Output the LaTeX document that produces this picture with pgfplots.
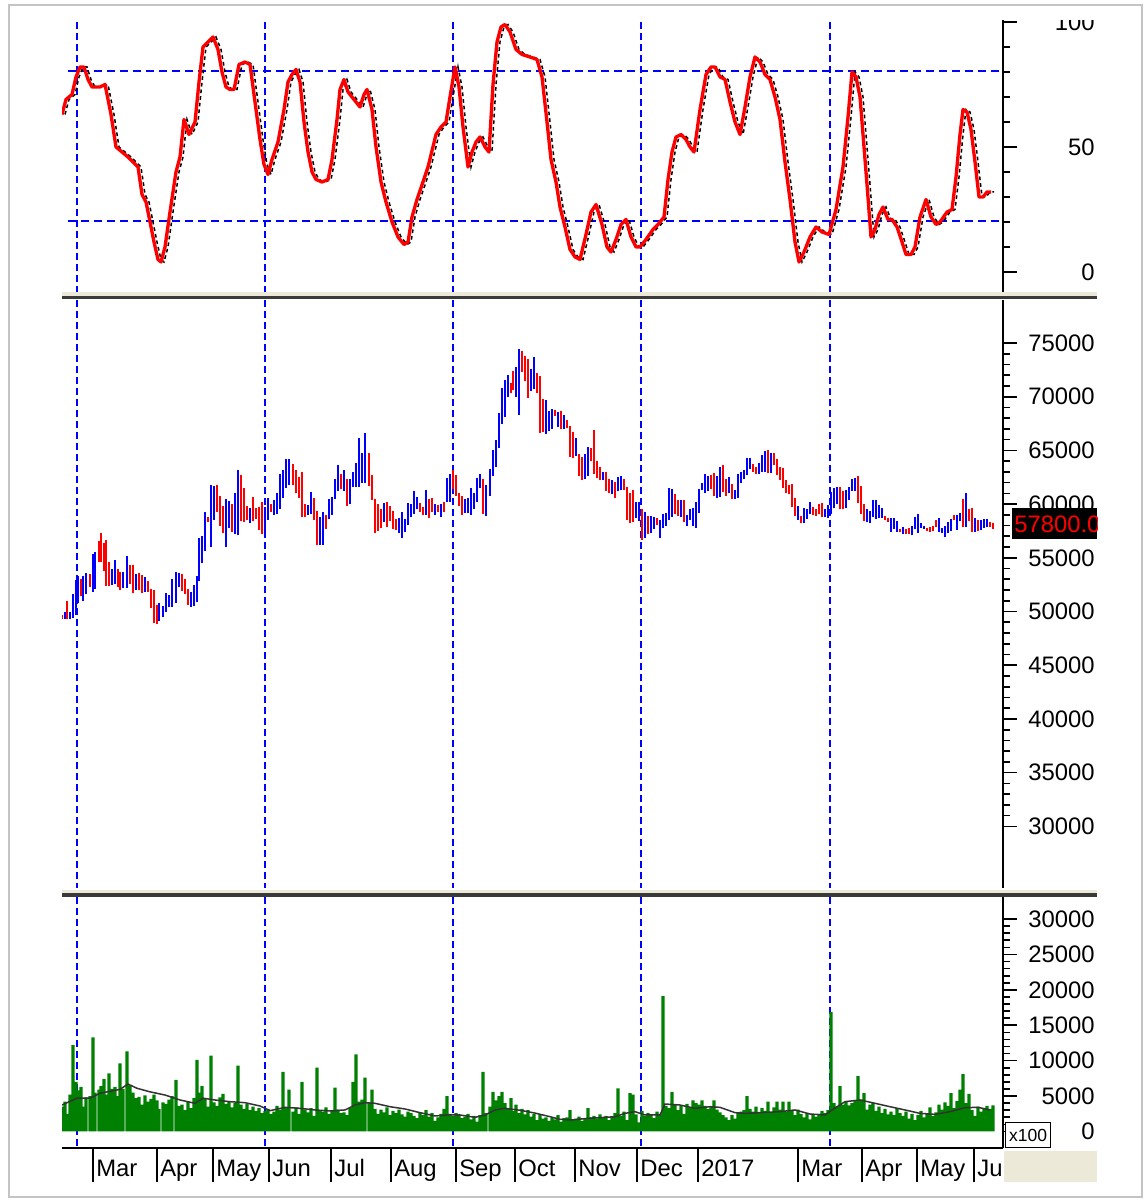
\documentclass[border=0pt]{standalone}
\usepackage{pgfplots}
\pgfplotsset{compat=1.18}
\usepackage{pgfplotstable}
\usepackage{fontspec}
\setmainfont{Liberation Sans}
\definecolor{upc}{HTML}{0000FF}
\definecolor{dnc}{HTML}{FF0000}
\definecolor{volc}{HTML}{008000}
\definecolor{beige}{HTML}{ECE9D8}
\definecolor{sepc}{HTML}{3A3A3A}
\definecolor{framec}{HTML}{C4C4C4}
\definecolor{gridb}{HTML}{0000FF}
\definecolor{mac}{HTML}{333333}

\pgfplotstableread{
x o h l c v
62 49600 49700 49300 49400 3500
65 49400 50000 49300 49800 4200
67 50200 51000 49300 49400 2500
70 49500 50000 49300 49900 5200
73 49600 51600 49400 51400 12200
76 50000 52900 49700 52500 7000
78 51200 53300 50800 53000 5800
81 52900 53000 51400 52000 6300
83 51800 53300 51000 53000 3500
86 52000 53600 51600 53300 4800
90 53300 53500 52300 52500 5000
93 52000 55400 51800 55200 13300
95 52400 55500 52100 55300 5500
99 56200 56600 54600 54900 5900
101 56400 57300 54600 55000 6400
104 55800 56400 53800 54200 7400
106 54700 56700 52400 52900 5200
109 54000 54600 52400 52600 8200
112 52800 54000 52500 53800 6000
115 53000 54800 52600 54000 6300
118 53700 54000 52300 52800 5000
120 53400 53700 52000 52500 9600
123 52600 53700 52200 53300 6000
127 52600 55200 52200 54300 11300
130 54000 54300 52600 53000 6500
133 53700 54300 51700 52300 5500
136 52400 53500 52000 53300 4700
139 53300 53600 52000 52300 4900
142 52900 53400 51700 52000 3800
145 52000 53200 51800 52900 5100
148 52200 52800 51800 51900 4200
151 51900 52100 50300 50600 4600
154 51600 52000 48900 49100 5200
157 50300 50600 48800 49100 4400
159 49300 50800 49100 50500 3200
163 49700 50500 49500 50200 4100
166 50300 51700 50000 51400 3900
169 50600 51500 50400 51200 4500
172 50700 53000 50400 52600 5000
176 51100 53700 50800 53500 7300
179 52600 53600 52300 53400 3600
182 53300 53500 51900 52100 3800
185 52800 53000 51600 51900 3000
188 51900 52100 50600 50900 4200
191 50700 51800 50400 51600 3300
194 50900 52500 50500 52300 4700
197 51200 53300 50900 53100 10100
199 53000 56800 52800 56300 5500
202 54800 57000 54500 56800 6400
205 56000 59300 55600 59000 4600
208 58600 58800 58300 58400 3500
211 56200 61800 56000 61300 10700
214 59000 61700 58500 61400 4100
217 61400 61800 59300 59600 3600
220 60300 60800 58000 58300 4800
223 59300 59800 57300 57600 5300
226 56400 60500 56000 59700 3900
229 58200 60300 57800 59900 4200
232 59500 60000 57400 57800 3400
235 57600 61000 57200 60500 4000
238 57500 63200 57100 62600 9300
241 62300 62700 58400 58700 3800
244 61000 61500 58300 58600 3200
247 59400 59800 58500 58800 3900
250 58400 59600 58200 59400 3000
253 60300 60700 58400 59000 3500
256 59300 59600 58600 58900 2900
259 59200 59700 57600 58000 3300
262 59800 60200 57200 57400 2600
265 57700 59700 57400 59300 2900
268 58800 60600 58500 60300 3200
271 59900 60000 59300 59400 2500
274 59300 60400 59000 60100 2800
277 59400 61000 59100 60700 3600
280 59800 62800 59500 62300 3100
283 61000 63200 60600 62900 8400
286 61800 64200 61500 64000 3300
289 62200 64200 61800 63800 5900
293 63500 63700 61800 62000 2800
296 62900 63200 61000 61200 3400
299 62200 62500 60600 60900 2500
302 62500 63000 58800 59000 7000
305 59600 60000 58800 59000 3100
308 59100 59900 59000 59700 2700
311 59400 61100 59100 60800 3300
314 60200 60600 58500 58900 2200
317 58900 59400 56200 57500 9000
320 57400 58800 56200 58600 3000
323 57600 59300 56200 58900 2800
326 58800 59000 57700 57900 3400
329 58900 60500 58600 60300 2500
332 59300 60700 59000 60500 2900
335 60800 62300 60500 62100 6200
338 61500 63600 61200 63000 3100
341 62600 62800 61400 61700 2600
344 61500 63200 61200 63000 2700
347 61800 62300 59800 60200 2300
350 60300 62300 60000 61900 3300
353 61800 63000 61600 62800 7000
356 61900 63800 61600 63300 10900
359 62000 66200 61600 64800 4200
362 62300 64800 62000 64500 4500
365 62500 66600 62000 65000 7600
369 64500 64800 61700 62000 4000
372 62500 62700 60400 60800 5900
375 60300 60500 57300 57900 3200
378 59500 60000 57500 58000 2500
381 59200 59500 57800 58100 3100
384 58500 60100 58300 59900 2700
387 59800 60200 57900 58200 3400
390 59500 59800 58400 58700 2300
393 59100 59400 57700 58000 2900
396 58400 58600 57600 57700 2600
399 57500 58700 57300 58400 3100
402 57100 59300 56800 58900 2400
405 57600 58600 57400 58400 2100
408 58300 60100 58100 59900 2800
411 59100 60000 58800 59800 2600
414 59400 61200 59100 60900 2200
417 59700 60700 59500 60400 1900
420 59900 60100 59300 59500 2700
423 59600 59700 59000 59200 2300
426 59300 61300 59000 61000 3000
429 60200 60500 58700 59000 2100
432 60400 60600 59300 59500 2600
435 59200 60000 59000 59800 1500
438 59700 59900 59300 59400 2000
441 59100 60000 58800 59800 2500
444 60000 60200 59300 59500 3200
447 60500 62400 60200 62100 5000
450 60600 62800 60200 62500 2500
453 63000 63200 61400 61700 2200
456 62500 62700 60800 61000 2600
459 60800 61000 59800 60000 2300
462 60500 60800 59000 59400 1900
465 59400 60500 59200 60300 2100
468 59500 60600 59200 60400 2500
471 59300 61500 59000 61200 1700
474 59800 61000 59500 60700 2200
477 60500 62400 60200 62000 1400
480 61700 62800 61500 62600 2300
483 61800 62300 59100 59300 8400
486 59300 61800 58900 61500 2600
490 61000 63300 60800 63000 3500
493 62900 65000 62600 64800 5600
496 63800 66000 63500 65600 4400
499 65500 68500 65200 68200 5000
502 67800 70800 67500 70500 5600
505 68400 71600 68100 71300 4000
508 70300 72000 70000 71600 3300
511 71100 71300 70300 70600 4700
513 72200 72400 70600 71000 2900
516 70300 72800 70000 72400 3800
519 68600 74400 68300 73000 2600
522 74100 74300 72300 72600 3200
525 73500 73800 71500 71800 2400
528 73100 73500 69900 71000 3000
531 70800 72600 70500 72300 2100
534 71000 73700 70700 73400 2500
537 71900 72200 70300 70600 1600
540 70500 71900 66600 66800 2400
543 69400 69800 66700 67000 1800
546 66800 69700 66500 69400 2000
549 67100 68700 66800 68400 1500
552 67300 68900 67000 68600 1900
555 68700 68800 68200 68300 1700
558 67500 68600 67200 68400 2300
561 68500 68700 67000 67400 1400
564 67200 68300 67000 68100 1900
567 67600 67800 67100 67200 2000
570 67000 67300 64400 64600 3000
573 66300 66700 64300 64500 1700
576 64800 66200 64500 65700 1800
579 64400 64700 62600 62800 2100
582 64000 64400 62200 62500 1500
585 62600 64700 62300 64500 1900
588 62900 65300 62600 65000 3300
591 65000 65200 64000 64200 2000
594 65000 66900 62800 63200 2200
597 63700 64000 62400 62700 1800
600 63300 63500 62200 62400 2400
603 62400 63000 62200 62800 1900
606 62700 63000 61200 61500 2200
609 62000 62300 61000 61200 1600
612 61100 62200 60900 61900 2100
615 61800 62100 60600 60800 2600
618 61500 62500 61200 62300 6100
621 61500 62600 61300 62300 2200
624 62100 62300 61300 61600 2800
627 61300 61600 58500 58800 1600
630 60500 61000 58200 58500 5400
633 60400 61300 58300 58700 5200
636 59000 60200 58700 60000 2400
639 58800 60200 58400 59800 1300
642 58600 59500 56700 57000 2900
645 57200 59300 56800 59000 2200
648 58600 58900 57200 57500 2600
651 57600 58900 57300 58700 2400
654 57900 58800 57700 58600 1900
657 58500 58700 58100 58200 2800
660 57000 58500 56800 58300 2500
663 58000 59100 57800 58900 19100
666 58200 59200 58000 59000 3600
669 58800 61500 58500 61300 3300
672 59200 61400 58800 61200 5600
675 60600 60900 59100 59400 3800
678 60100 60400 58900 59200 3000
681 59100 60400 58800 60100 3600
684 60000 60400 58300 58600 2500
687 58200 59000 58000 58800 3900
690 58700 59500 58500 59300 3300
693 58200 59600 58000 59300 4400
696 58100 60200 57800 59800 4000
699 59500 61400 59200 61200 3800
702 61500 62000 61300 61900 4400
705 61300 62800 61000 62500 3600
708 61500 62600 61200 62400 3200
711 62500 62700 61400 61600 3500
714 62600 62900 60800 61100 4400
717 60900 62600 60600 62300 3100
720 61000 63500 60700 62800 2700
723 63200 63600 61100 61400 2300
726 62000 62300 60800 61000 2000
729 61200 62500 61000 62200 1600
732 61700 61900 60500 60700 2300
735 60700 61300 60500 61100 1800
738 60800 62800 60600 62500 2600
741 62200 63000 62000 62800 2800
744 62500 63200 62300 63000 3000
747 62900 64300 62700 64000 5000
750 63500 64300 63300 64100 3200
753 63600 63700 63000 63300 2800
756 63400 63500 62800 63000 3500
759 63000 63800 62800 63600 2600
762 63200 64600 63000 64400 3300
765 63200 64900 63000 64300 2900
768 64700 65000 62900 63100 4200
771 63100 64800 62900 64500 2700
774 64600 64800 63600 63800 3400
777 64000 64200 62700 63000 4200
780 63300 63500 62200 62400 3100
783 63000 63400 61500 61800 4200
786 62000 62200 61000 61200 2800
789 61600 61800 60900 61100 4200
792 61500 61900 59700 60000 2900
795 60300 60600 58900 59200 2300
798 58800 59800 58500 59500 3100
801 58800 58900 58200 58400 2500
804 58400 59600 58200 59300 2000
807 58800 59500 58600 59300 2600
810 59300 60200 59100 60000 1700
813 59600 59700 59000 59200 2300
816 59400 59500 58900 59000 2100
819 59800 60000 59100 59300 2500
822 59900 60100 58800 59000 2900
825 59000 59500 58800 59300 2600
828 58900 59900 58700 59600 3000
831 59400 61100 59100 60900 16900
834 59900 61500 59600 61300 4000
837 60200 61600 60000 61400 3500
840 61400 61600 59500 59800 6400
843 60900 61200 59500 59800 3800
846 59800 61300 59600 61000 4200
849 60600 61600 60400 61400 3700
852 61400 62300 61200 62000 4000
855 61400 62400 61200 62200 4300
858 62300 62600 60100 60300 7800
861 61500 61700 59100 59400 4500
864 59800 60000 58400 58600 5400
867 58500 59500 58300 59200 3100
870 58400 59400 58200 59200 3800
873 59000 60400 58800 60200 4000
876 58800 60400 58600 60100 2900
879 58900 59900 58700 59600 3500
882 58900 59600 58700 59400 2600
885 58800 58900 58500 58600 3200
888 58600 58700 58300 58400 2400
891 57600 58700 57400 58500 2800
894 57900 58700 57700 58500 2300
897 57600 58400 57400 58200 3300
900 57600 57700 57400 57500 2600
903 57400 57900 57200 57700 2200
906 57600 57700 57200 57400 2800
909 57700 57800 57200 57300 1800
912 57300 58000 57100 57800 2500
915 57900 58800 57700 58600 1600
918 57500 59100 57300 58800 2300
921 57900 58200 57800 58100 2900
924 57800 58000 57700 57900 2000
927 57700 57800 57500 57600 2500
930 57800 57900 57400 57500 3400
933 57900 58000 57500 57600 2200
936 58400 58500 57900 58000 2700
939 57600 58700 57400 58400 3800
942 57400 57800 57300 57700 3100
945 57100 58000 56900 57800 4100
948 57500 58300 57300 58100 3600
951 57700 58600 57500 58400 5400
954 58900 59000 58500 58600 3300
957 57800 59000 57600 58800 4300
960 58600 59200 58400 59000 5900
963 60300 60500 57900 58200 8100
966 58200 61000 57900 60400 4000
969 59300 59500 58400 58600 5300
972 59400 59600 57400 57700 3000
975 57600 58700 57400 58500 2200
978 58300 58500 57500 57700 3500
981 57800 58500 57600 58300 2800
984 58000 58600 57800 58400 3300
987 58100 58600 57900 58400 3600
990 58200 58300 57900 58000 3200
993 58100 58200 57700 57800 3700
}\data

\newcommand{\tlfont}{\fontsize{14.3}{16}\selectfont}

\pgfplotsset{
  panel/.style={
    scale only axis, width=564.6pt, xmin=62, xmax=1003,
    anchor=south west,
    axis x line=none, axis y line*=right,
    axis line style={-, black, line width=1.2pt},
    tick align=outside,
    major tick length=8.4pt, minor tick length=4.2pt,
    tick style={black, line width=1pt},
    minor y tick num=4,
    scaled y ticks=false,
    yticklabel style={anchor=east, inner sep=0pt, xshift=46.8pt, font=\tlfont},
    /pgf/number format/assume math mode=true,
    /pgf/number format/1000 sep={},
  },
  candle/.style n args={4}{draw=none, mark=none,
    restrict expr to domain={\thisrow{c}-\thisrow{o}}{#1:#2},
    error bars/.cd, y dir=plus, y explicit, error mark=none,
    error bar style={draw=#3, line width=#4, line cap=butt}},
}

\begin{document}
\begin{tikzpicture}
\fill[white] (0pt,0pt) rectangle (688.8pt,721.2pt);
\useasboundingbox (0pt,0pt) rectangle (688.8pt,721.2pt);

\begin{scope}[x=0.6pt,y=-0.6pt,shift={(0pt,721.2pt)}]
\foreach \g in {77,265,453,641,830}{
  \draw[gridb, line width=1.2pt, dash pattern=on 4.2pt off 2.4pt] (\g,22) -- (\g,293);
  \draw[gridb, line width=1.2pt, dash pattern=on 4.2pt off 2.4pt] (\g,300) -- (\g,888);
  \draw[gridb, line width=1.2pt, dash pattern=on 4.2pt off 2.4pt] (\g,897) -- (\g,1148);
}
\draw[gridb, line width=1.2pt, dash pattern=on 4.8pt off 3pt] (68,71) -- (1003,71);
\draw[gridb, line width=1.2pt, dash pattern=on 4.8pt off 3pt] (68,221) -- (1003,221);
\end{scope}

% ---------- oscillator ----------
\begin{axis}[panel, at={(37.2pt,545.4pt)}, height=163.8pt,
  ymin=-8.4, ymax=100.8, ytick={0,50,100}]
\addplot[black, line width=0.9pt, dash pattern=on 2.2pt off 1.8pt] coordinates {
(65,63)(69,69)(75,71)(79,78)(83,82)(87,82)(91,77)(95,74)(103,74)(108,75)(111,69)(114,63)(119,50)(125,48)(131,46)(136,44)(141,42)(145,31)(149,28)(153,20)(157,12)(161,5)(164,4)(168,10)(173,24)(179,40)(183,46)(187,61)(192,55)(198,60)(202,76)(206,90)(211,92)(216,94)(221,89)(225,80)(229,74)(233,73)(237,73)(242,83)(248,84)(253,83)(258,68)(263,53)(267,43)(271,39)(275,45)(281,52)(287,65)(291,76)(295,79)(299,81)(303,76)(307,60)(311,48)(315,40)(319,37)(325,36)(331,37)(335,45)(340,61)(343,73)(347,77)(351,72)(355,70)(359,68)(363,66)(367,71)(370,73)(375,65)(379,50)(384,36)(389,28)(395,20)(401,14)(407,11)(411,12)(415,22)(420,29)(426,36)(431,42)(439,55)(444,58)(449,60)(453,70)(458,82)(462,74)(466,58)(471,42)(475,48)(479,52)(483,54)(488,50)(492,48)(496,75)(500,92)(504,98)(508,99)(513,96)(519,89)(525,87)(533,86)(540,85)(545,78)(550,60)(554,45)(559,36)(563,26)(568,18)(573,9)(578,6)(583,5)(589,15)(594,24)(599,27)(605,19)(610,10)(614,8)(619,13)(624,19)(629,21)(634,14)(639,10)(643,10)(649,13)(656,17)(661,19)(667,22)(671,37)(675,48)(679,54)(684,55)(689,53)(693,50)(697,48)(703,65)(709,79)(714,82)(718,82)(723,78)(728,77)(733,68)(738,60)(743,55)(748,66)(753,78)(758,86)(763,84)(768,79)(773,77)(778,70)(783,61)(788,44)(793,29)(798,12)(802,4)(807,8)(813,14)(819,18)(825,16)(832,15)(839,25)(846,42)(851,62)(855,80)(859,78)(863,70)(867,50)(870,35)(874,14)(878,17)(882,23)(886,26)(891,21)(895,21)(900,18)(905,12)(909,7)(914,7)(918,10)(923,22)(929,29)(934,22)(939,19)(943,20)(950,24)(955,25)(959,38)(963,55)(966,65)(970,64)(974,57)(978,44)(982,30)(986,30)(990,32)(994,32)
};
\addplot[dnc, line width=2pt, line join=round] coordinates {
(62,63)(66,69)(72,71)(76,78)(80,82)(84,82)(88,77)(92,74)(100,74)(105,75)(108,69)(111,63)(116,50)(122,48)(128,46)(133,44)(138,42)(142,31)(146,28)(150,20)(154,12)(158,5)(161,4)(165,10)(170,24)(176,40)(180,46)(184,61)(189,55)(195,60)(199,76)(203,90)(208,92)(213,94)(218,89)(222,80)(226,74)(230,73)(234,73)(239,83)(245,84)(250,83)(255,68)(260,53)(264,43)(268,39)(272,45)(278,52)(284,65)(288,76)(292,79)(296,81)(300,76)(304,60)(308,48)(312,40)(316,37)(322,36)(328,37)(332,45)(337,61)(340,73)(344,77)(348,72)(352,70)(356,68)(360,66)(364,71)(367,73)(372,65)(376,50)(381,36)(386,28)(392,20)(398,14)(404,11)(408,12)(412,22)(417,29)(423,36)(428,42)(436,55)(441,58)(446,60)(450,70)(455,82)(459,74)(463,58)(468,42)(472,48)(476,52)(480,54)(485,50)(489,48)(493,75)(497,92)(501,98)(505,99)(510,96)(516,89)(522,87)(530,86)(537,85)(542,78)(547,60)(551,45)(556,36)(560,26)(565,18)(570,9)(575,6)(580,5)(586,15)(591,24)(596,27)(602,19)(607,10)(611,8)(616,13)(621,19)(626,21)(631,14)(636,10)(640,10)(646,13)(653,17)(658,19)(664,22)(668,37)(672,48)(676,54)(681,55)(686,53)(690,50)(694,48)(700,65)(706,79)(711,82)(715,82)(720,78)(725,77)(730,68)(735,60)(740,55)(745,66)(750,78)(755,86)(760,84)(765,79)(770,77)(775,70)(780,61)(785,44)(790,29)(795,12)(799,4)(804,8)(810,14)(816,18)(822,16)(829,15)(836,25)(843,42)(848,62)(852,80)(856,78)(860,70)(864,50)(867,35)(871,14)(875,17)(879,23)(883,26)(888,21)(892,21)(897,18)(902,12)(906,7)(911,7)(915,10)(920,22)(926,29)(931,22)(936,19)(940,20)(947,24)(952,25)(956,38)(960,55)(963,65)(967,64)(971,57)(975,44)(979,30)(983,30)(987,32)(991,32)
};
\end{axis}

% ---------- price ----------
\begin{axis}[panel, at={(37.2pt,188.4pt)}, height=352.8pt,
  ymin=24260, ymax=79003, ytick={30000,35000,...,75000}]
\addplot[candle={0}{100000}{upc}{0.7pt}]
  table[x=x, y=l, y error plus expr=\thisrow{h}-\thisrow{l}] \data;
\addplot[candle={-100000}{-1}{dnc}{0.7pt}]
  table[x=x, y=l, y error plus expr=\thisrow{h}-\thisrow{l}] \data;
\addplot[candle={0}{100000}{upc}{1.5pt}]
  table[x=x, y=o, y error plus expr=\thisrow{c}-\thisrow{o}] \data;
\addplot[candle={-100000}{-1}{dnc}{1.5pt}]
  table[x=x, y=c, y error plus expr=\thisrow{o}-\thisrow{c}] \data;
\end{axis}

% ---------- volume ----------
\begin{axis}[panel, at={(37.2pt,32.4pt)}, height=151.2pt,
  ymin=-2330, ymax=33250, ytick={0,5000,...,30000}]
\addplot[ybar, bar width=2pt, bar shift=0pt, fill=volc, draw=none]
  table[x=x, y=v] \data;
\addplot[mac, line width=0.9pt] coordinates {
(62,3740)(77,4700)(90,4700)(100,5400)(120,5950)(128,6700)(137,6100)(150,5600)(165,5150)(180,4450)(195,3980)(203,4700)(215,4450)(230,4210)(245,4070)(260,3600)(270,2940)(285,3410)(300,3270)(315,3040)(330,2900)(345,3040)(355,3740)(365,4070)(375,3980)(390,3500)(405,3180)(420,2660)(435,2190)(447,2330)(460,2330)(475,2000)(485,2330)(495,3040)(505,3270)(520,3000)(535,2600)(550,2090)(560,1720)(571,1620)(588,1860)(600,1950)(615,2090)(625,2560)(635,2800)(645,2330)(660,2330)(665,3880)(680,3740)(695,3270)(710,3500)(720,3410)(735,2660)(745,2560)(760,2660)(780,2800)(795,3040)(810,2470)(825,2330)(833,3130)(845,4210)(860,4450)(875,3980)(890,3500)(905,3040)(920,2560)(935,2420)(950,2800)(965,3360)(978,3410)(990,3040)
};
\end{axis}

\begin{scope}[x=0.6pt,y=-0.6pt,shift={(0pt,721.2pt)}]
\fill[beige] (62,292.5) rectangle (1097,296);
\fill[sepc] (62,296) rectangle (1097,299.5);
\fill[beige] (62,889.5) rectangle (1097,893);
\fill[sepc] (62,893) rectangle (1097,896.5);

\draw[black, line width=1.2pt] (62,1148) -- (1003,1148);
\fill[beige] (1004,1151) rectangle (1097,1182);
\foreach \t in {93,157,213,269,331,391,456,515,575,637,698,798,862,917,974}{
  \draw[black, line width=1pt] (\t,1148) -- (\t,1182);
}
\begin{scope}[every node/.style={anchor=base west, inner sep=0pt, font=\tlfont}]
\node at (96,1176) {Mar};
\node at (160,1176) {Apr};
\node at (216,1176) {May};
\node at (272,1176) {Jun};
\node at (334,1176) {Jul};
\node at (394,1176) {Aug};
\node at (459,1176) {Sep};
\node at (518,1176) {Oct};
\node at (578,1176) {Nov};
\node at (640,1176) {Dec};
\node at (701,1176) {2017};
\node at (801,1176) {Mar};
\node at (865,1176) {Apr};
\node at (920,1176) {May};
\begin{scope}
\clip (970,1150) rectangle (1002,1185);
\node at (977,1176) {Jun};
\end{scope}
\end{scope}

\draw[black, line width=0.8pt, fill=white] (1005.5,1122.5) rectangle (1050.5,1147.5);
\node[font=\fontsize{10.5}{12}\selectfont, inner sep=0pt] at (1028,1135) {x100};

\fill[black] (1012,508) rectangle (1097,539);
\begin{scope}
\clip (1012,508) rectangle (1097,539);
\node[anchor=west, inner sep=0pt, font=\tlfont, text=dnc] at (1014,524) {57800.00};
\end{scope}

\fill[white] (1008,6) rectangle (1100,20);

\draw[framec, line width=1.2pt] (9,5) rectangle (1142,1197);
\end{scope}
\end{tikzpicture}
\end{document}
